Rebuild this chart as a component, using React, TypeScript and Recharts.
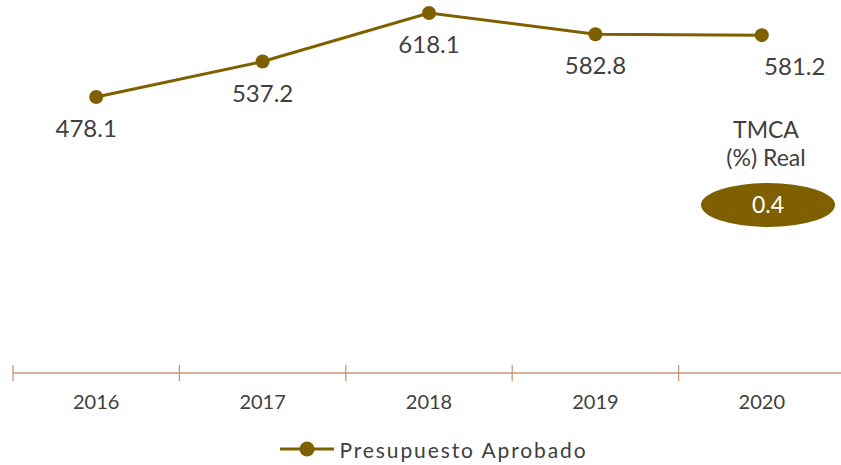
import { LineChart, Line, XAxis, YAxis, LabelList, Legend } from 'recharts'

const years = ['2016', '2017', '2018', '2019', '2020']
const budget = [478.1, 537.2, 618.1, 582.8, 581.2]
const axisFloor = 18
const tmcaTitle = ['TMCA', '(%) Real']
const tmcaValue = '0.4'
const seriesName = 'Presupuesto Aprobado'

const data = years.map((year, i) => ({ year, budget: budget[i] }))

const GOLD = '#7f6000'
const AXIS = '#c4967a'
const TEXT = '#404040'
const FONT = 'Lato, "Open Sans", sans-serif'

const W = 841
const H = 465
const M = { top: 13, right: -4, left: 13, bottom: 3 }
const band = (W - M.left - M.right) / years.length

const YearTick = ({ x, y, payload }: any) => (
  <g>
    <line x1={x - band / 2} x2={x - band / 2} y1={y - 8} y2={y + 8} stroke={AXIS} strokeWidth={1.3} />
    <text x={x} y={y + 36} textAnchor="middle" fontSize={20} fill={TEXT} fontFamily={FONT}>
      {payload.value}
    </text>
  </g>
)

const ValueLabel = ({ x, y, value, index }: any) => {
  const dx = index === 0 ? -10 : index === years.length - 1 ? 33 : 0
  return (
    <text x={x + dx} y={y + 40} textAnchor="middle" fontSize={24} fill={TEXT} fontFamily={FONT}>
      {value}
    </text>
  )
}

const LegendBox = () => (
  <div style={{ display: 'flex', justifyContent: 'center', alignItems: 'center', height: 26, fontFamily: FONT, paddingLeft: 10 }}>
    <svg width={54} height={20} style={{ marginRight: 5 }}>
      <line x1={0} x2={54} y1={10} y2={10} stroke={GOLD} strokeWidth={3} />
      <circle cx={27} cy={10} r={7.5} fill={GOLD} />
    </svg>
    <span style={{ fontSize: 21, color: TEXT, letterSpacing: 1.9 }}>{seriesName}</span>
  </div>
)

// TMCA badge under the last point
const Tmca = () => (
  <g fontFamily={FONT}>
    <text x={766} y={138} textAnchor="middle" fontSize={23} fill={TEXT}>{tmcaTitle[0]}</text>
    <text x={766} y={166} textAnchor="middle" fontSize={23} fill={TEXT}>{tmcaTitle[1]}</text>
    <ellipse cx={768} cy={205} rx={67} ry={22} fill={GOLD} />
    <text x={768} y={213} textAnchor="middle" fontSize={23} fill="#ffffff">{tmcaValue}</text>
  </g>
)

export default function App() {
  return (
    <div style={{ position: 'absolute', left: 0, top: 0, width: W, height: H, background: '#fff', overflow: 'hidden' }}>
      <LineChart width={W} height={H} data={data} margin={M}>
        <XAxis
          dataKey="year"
          interval={0}
          height={63}
          padding={{ left: band / 2, right: band / 2 }}
          tickSize={0}
          tickMargin={0}
          tickLine={false}
          axisLine={{ stroke: AXIS, strokeWidth: 1.3 }}
          tick={<YearTick />}
        />
        <YAxis hide domain={[axisFloor, 'dataMax']} />
        <Legend verticalAlign="bottom" content={<LegendBox />} />
        <Line
          dataKey="budget"
          name={seriesName}
          stroke={GOLD}
          strokeWidth={3}
          dot={{ r: 7, fill: GOLD, stroke: GOLD, strokeWidth: 0 }}
          isAnimationActive={false}
        >
          <LabelList dataKey="budget" content={<ValueLabel />} />
        </Line>
        <Tmca />
      </LineChart>
    </div>
  )
}
